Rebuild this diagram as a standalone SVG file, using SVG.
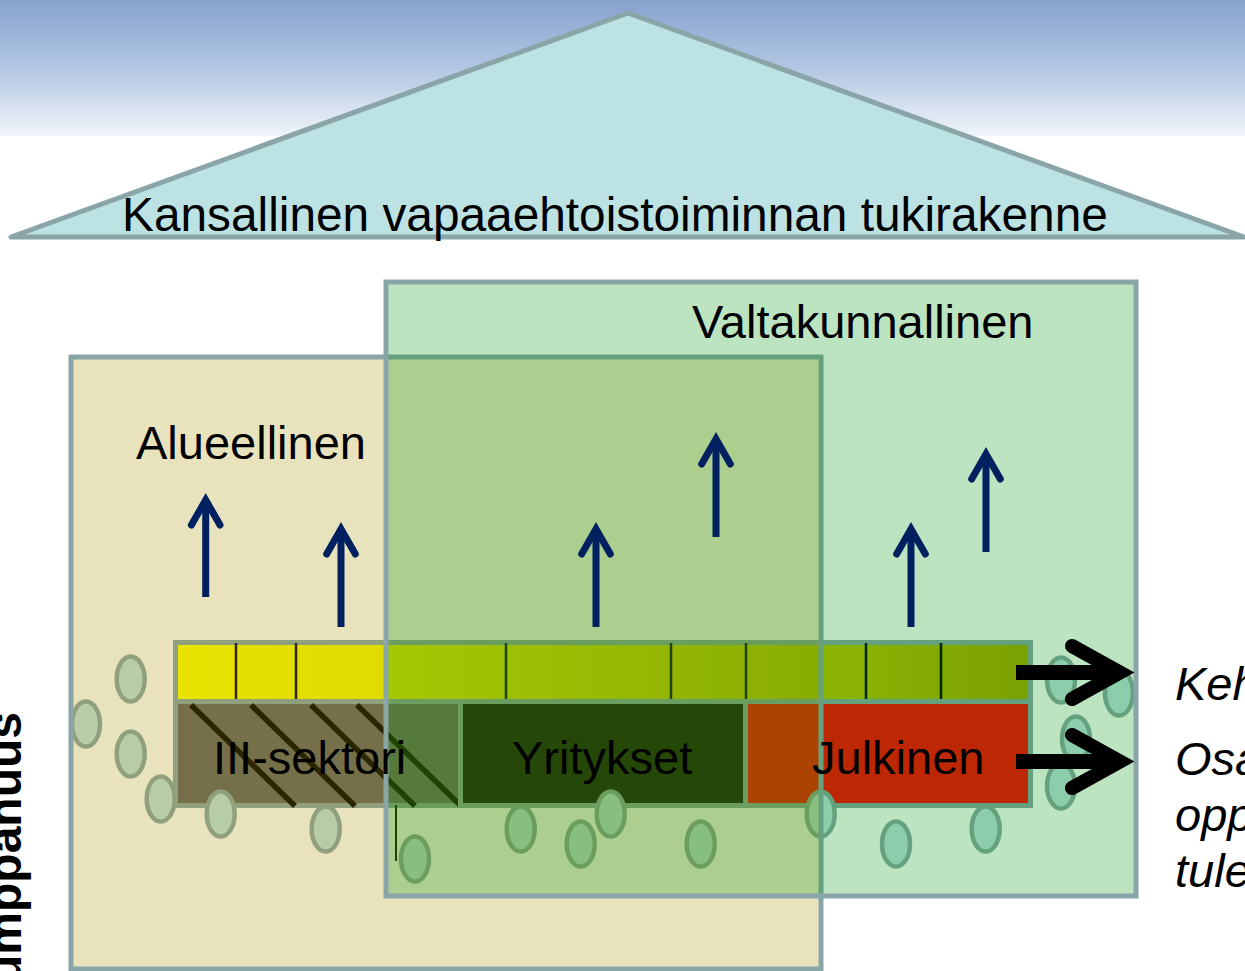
<svg xmlns="http://www.w3.org/2000/svg" width="1245" height="971" viewBox="0 0 1245 971">
<defs>
  <linearGradient id="sky" x1="0" y1="0" x2="0" y2="1">
    <stop offset="0" stop-color="#86a3ce"/>
    <stop offset="0.5" stop-color="#b3c6e3"/>
    <stop offset="1" stop-color="#f0f4fa"/>
  </linearGradient>
  <linearGradient id="barGrad" gradientUnits="userSpaceOnUse" x1="178" y1="0" x2="1028" y2="0">
    <stop offset="0" stop-color="#ffff00"/>
    <stop offset="0.245" stop-color="#f3f300"/>
    <stop offset="0.756" stop-color="#c0c000"/>
    <stop offset="1" stop-color="#a5a500"/>
  </linearGradient>
  <style>
    .lbl { font-family: "Liberation Sans", Arial, sans-serif; font-size: 47px; fill: #000; }
    .it { font-style: italic; }
    .edge { stroke: #8aa5a8; stroke-width: 5; }
    .circ { fill: #bde2e3; stroke: #8aa5a8; stroke-width: 4.5; }
    .tick { stroke: #000; stroke-width: 2.5; }
    .hatch { stroke: #000; stroke-width: 5.5; }
    .up { stroke: #002060; stroke-width: 7; fill: none; }
    .uphead { stroke: #002060; stroke-width: 7; fill: none; stroke-linecap: round; stroke-linejoin: miter; }
    .blk { stroke: #000; stroke-width: 15; fill: none; }
    .blkhead { stroke: #000; stroke-width: 14; fill: none; stroke-linecap: round; stroke-linejoin: miter; }
  </style>
</defs>

<rect x="0" y="0" width="1245" height="971" fill="#ffffff"/>
<rect x="0" y="0" width="1245" height="136" fill="url(#sky)"/>

<g id="tukirakenne">
  <polygon points="11,237 628,13 1244,237" fill="#bde2e3" class="edge" stroke-linejoin="round"/>
  <text class="lbl" x="122" y="231" style="font-size:47.8px">Kansallinen vapaaehtoistoiminnan tukirakenne</text>
</g>

<g id="palkki">
  <rect x="175.5" y="642.5" width="855" height="59" fill="url(#barGrad)" class="edge"/>
  <g id="jakoviivat">
    <line class="tick" x1="236" y1="643" x2="236" y2="701"/>
    <line class="tick" x1="296" y1="643" x2="296" y2="701"/>
    <line class="tick" x1="506" y1="643" x2="506" y2="701"/>
    <line class="tick" x1="671" y1="643" x2="671" y2="701"/>
    <line class="tick" x1="746" y1="643" x2="746" y2="701"/>
    <line class="tick" x1="866" y1="643" x2="866" y2="701"/>
    <line class="tick" x1="941" y1="643" x2="941" y2="701"/>
  </g>
</g>

<g id="iii-sektori">
  <rect x="175.5" y="701.5" width="285" height="104" fill="#646464" class="edge"/>
  <line class="hatch" x1="191" y1="705" x2="295" y2="806"/>
  <line class="hatch" x1="251" y1="705" x2="355" y2="806"/>
  <line class="hatch" x1="311" y1="705" x2="415" y2="806"/>
  <line class="hatch" x1="357" y1="705" x2="460" y2="805"/>
</g>

<g id="yritykset">
  <rect x="460.5" y="701.5" width="285" height="104" fill="#0a0a0a" class="edge"/>
</g>

<g id="julkinen">
  <rect x="745.5" y="701.5" width="285" height="104" fill="#ff0000" class="edge"/>
</g>

<line x1="396" y1="805" x2="396" y2="861" stroke="#000" stroke-width="2"/>

<g id="toimijat">
  <ellipse class="circ" cx="130.7" cy="679" rx="14" ry="22.5"/>
  <ellipse class="circ" cx="86" cy="724" rx="14" ry="22.5"/>
  <ellipse class="circ" cx="130.7" cy="754" rx="14" ry="22.5"/>
  <ellipse class="circ" cx="160.7" cy="799" rx="14" ry="22.5"/>
  <ellipse class="circ" cx="220.7" cy="814" rx="14" ry="22.5"/>
  <ellipse class="circ" cx="325.7" cy="829" rx="14" ry="22.5"/>
  <ellipse class="circ" cx="415" cy="859" rx="14" ry="22.5"/>
  <ellipse class="circ" cx="520.7" cy="829" rx="14" ry="22.5"/>
  <ellipse class="circ" cx="580.7" cy="844" rx="14" ry="22.5"/>
  <ellipse class="circ" cx="610.7" cy="814" rx="14" ry="22.5"/>
  <ellipse class="circ" cx="700.7" cy="844" rx="14" ry="22.5"/>
  <ellipse class="circ" cx="820.7" cy="814" rx="14" ry="22.5"/>
  <ellipse class="circ" cx="896" cy="844" rx="14" ry="22.5"/>
  <ellipse class="circ" cx="985.7" cy="829" rx="14" ry="22.5"/>
  <ellipse class="circ" cx="1061" cy="680" rx="14" ry="22.5"/>
  <ellipse class="circ" cx="1119" cy="693" rx="14" ry="22.5"/>
  <ellipse class="circ" cx="1076" cy="739" rx="14" ry="22.5"/>
  <ellipse class="circ" cx="1061" cy="786" rx="14" ry="22.5"/>
</g>

<g id="alueellinen">
  <rect x="71" y="357" width="750" height="612" fill="#a69400" fill-opacity="0.26" class="edge" stroke-width="4.5"/>
  <text class="lbl" x="136" y="459">Alueellinen</text>
</g>

<g id="valtakunnallinen">
  <rect x="386" y="282" width="750" height="614" fill="#00980a" fill-opacity="0.26" class="edge" stroke-width="4.5"/>
  <text class="lbl" x="692" y="338">Valtakunnallinen</text>
</g>

<g id="palkki-tekstit">
  <text class="lbl" x="213" y="774">III-sektori</text>
  <text class="lbl" x="512" y="774">Yritykset</text>
  <text class="lbl" x="812" y="774">Julkinen</text>
</g>

<g id="nuolet">
  <path class="up" d="M205.7,597 V502"/>
  <polyline class="uphead" points="191.4,525 205.7,500 220,525"/>
  <path class="up" d="M341,627 V531"/>
  <polyline class="uphead" points="326.7,554 341,529 355.3,554"/>
  <path class="up" d="M596,627 V531"/>
  <polyline class="uphead" points="581.7,554 596,529 610.3,554"/>
  <path class="up" d="M716,537 V441"/>
  <polyline class="uphead" points="701.7,464 716,439 730.3,464"/>
  <path class="up" d="M911,627 V531"/>
  <polyline class="uphead" points="896.7,554 911,529 925.3,554"/>
  <path class="up" d="M986,552 V456"/>
  <polyline class="uphead" points="971.7,479 986,454 1000.3,479"/>

  <path class="blk" d="M1016,672.5 H1112"/>
  <polyline class="blkhead" points="1072,646 1120,672.5 1072,699"/>
  <path class="blk" d="M1016,761.5 H1112"/>
  <polyline class="blkhead" points="1072,735 1120,761.5 1072,788"/>
</g>

<g id="selitteet">
  <text class="lbl it" x="1175" y="700">Keh</text>
  <text class="lbl it" x="1175" y="775">Osa</text>
  <text class="lbl it" x="1175" y="831">opp</text>
  <text class="lbl it" x="1175" y="887">tule</text>
</g>

<g id="kumppanuus">
  <text class="lbl" transform="translate(21,712) rotate(-90)" text-anchor="end" style="font-weight:bold;font-size:48px">Kumppanuus</text>
</g>
</svg>
